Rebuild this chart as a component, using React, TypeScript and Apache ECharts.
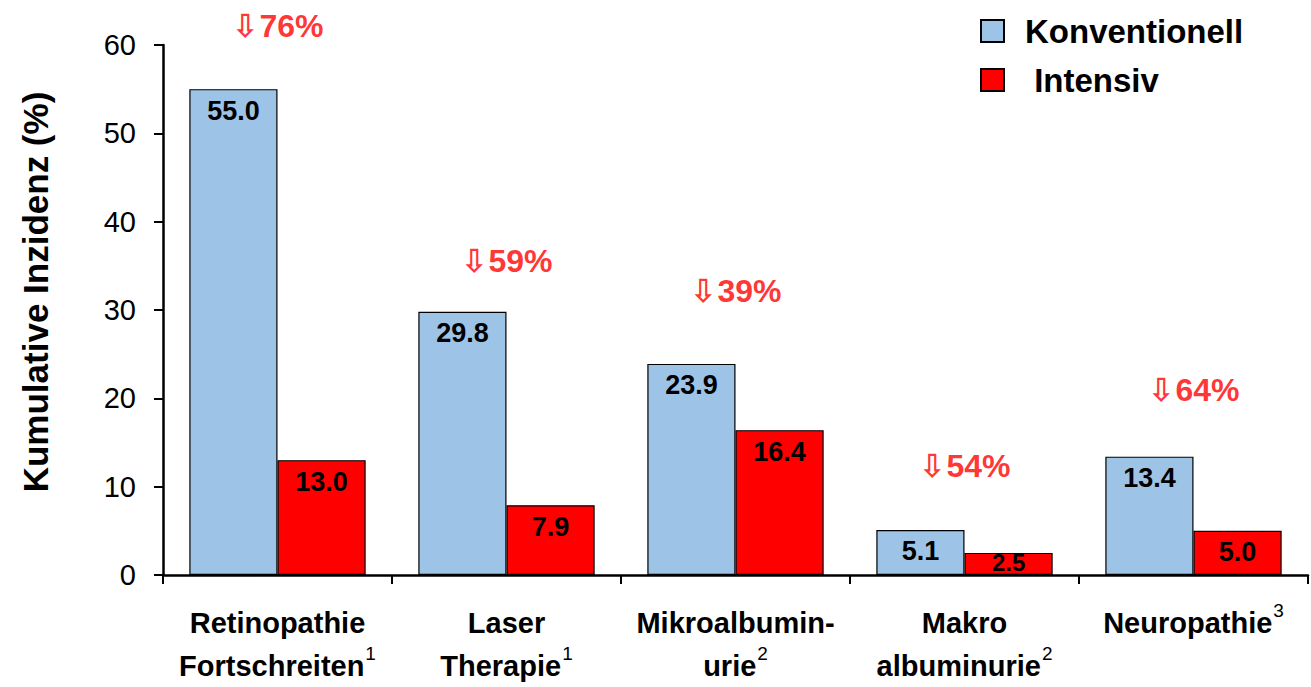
import React, { useEffect, useRef } from "react";
import * as echarts from "echarts";

const categories = [
  "{b|Retinopathie}\n{b|Fortschreiten}{s|1}",
  "{b|Laser}\n{b|Therapie}{s|1}",
  "{b|Mikroalbumin-}\n{b|urie}{s|2}",
  "{b|Makro}\n{b|albuminurie}{s|2}",
  "{b|Neuropathie}{s|3}",
];
const konventionell = [55.0, 29.8, 23.9, 5.1, 13.4];
const intensiv = [13.0, 7.9, 16.4, 2.5, 5.0];
const reductionLabels = ["76%", "59%", "39%", "54%", "64%"];
const reductionPos = [62.1, 35.5, 32.1, 12.3, 20.9];

export default function App() {
  const ref = useRef<HTMLDivElement>(null);
  useEffect(() => {
    if (!ref.current) return;
    const chart = echarts.init(ref.current, null, { renderer: "svg" });
    const font = "Liberation Sans, Arial, sans-serif";
    const valueLabel = {
      show: true,
      position: "insideTop",
      distance: 8,
      fontSize: 27,
      fontWeight: "bold",
      color: "#000",
      fontFamily: font,
      formatter: (p: any) => p.value.toFixed(1),
    };
    chart.setOption({
      animation: false,
      backgroundColor: "#ffffff",
      textStyle: { fontFamily: font },
      grid: { left: 163, right: 3, top: 45, bottom: 108, containLabel: false },
      legend: {
        orient: "vertical",
        left: 975,
        top: 9,
        itemWidth: 23,
        itemHeight: 22,
        itemGap: 15,
        icon: "rect",
        data: [{ name: "Konventionell" }, { name: " Intensiv" }],
        textStyle: {
          fontSize: 33,
          lineHeight: 34,
          fontWeight: "bold",
          color: "#000",
          fontFamily: font,
          padding: [0, 0, 0, 16],
        },
      },
      xAxis: {
        type: "category",
        data: categories,
        axisLine: { lineStyle: { color: "#000", width: 2.5 } },
        axisTick: { show: true, length: 9, lineStyle: { color: "#000", width: 2 } },
        axisLabel: {
          margin: 26,
          interval: 0,
          lineHeight: 43,
          rich: {
            b: { fontSize: 29, fontWeight: "bold", color: "#000", fontFamily: font, lineHeight: 43 },
            s: { fontSize: 19, color: "#000", fontFamily: font, verticalAlign: "top", padding: [0, 0, 6, 1] },
          },
        },
      },
      yAxis: {
        type: "value",
        min: 0,
        max: 60,
        interval: 10,
        name: "Kumulative Inzidenz (%)",
        nameLocation: "middle",
        nameGap: 110,
        nameTextStyle: {
          fontSize: 35,
          fontWeight: "bold",
          color: "#000",
          fontFamily: font,
          padding: [0, 0, 0, 36],
        },
        axisLine: { show: true, lineStyle: { color: "#000", width: 2.5 } },
        axisTick: { show: true, length: 9, lineStyle: { color: "#000", width: 2 } },
        axisLabel: { fontSize: 29, color: "#000", margin: 27, fontFamily: font },
        splitLine: { show: false },
      },
      series: [
        {
          name: "Konventionell",
          type: "bar",
          data: konventionell,
          barGap: "0%",
          barCategoryGap: "23%",
          itemStyle: { color: "#9dc3e6", borderColor: "#000", borderWidth: 1.2 },
          label: valueLabel,
        },
        {
          name: " Intensiv",
          type: "bar",
          data: intensiv.map((v) =>
            v < 4 ? { value: v, label: { distance: -2, fontSize: 24 } } : v
          ),
          itemStyle: { color: "#ff0000", borderColor: "#000", borderWidth: 1.2 },
          label: valueLabel,
        },
        {
          name: "reduction",
          type: "scatter",
          symbolSize: 0,
          silent: true,
          clip: false,
          z: 10,
          data: reductionPos.map((v, i) => ({ value: [i, v], name: reductionLabels[i] })),
          label: {
            show: true,
            position: "inside",
            formatter: (p: any) => "{a|⇩}{t|" + p.name + "}",
            rich: {
              a: { fontSize: 32, fontWeight: "bold", color: "#ff0000", fontFamily: "DejaVu Sans", padding: [0, 1, 0, 0] },
              t: { fontSize: 32, fontWeight: "bold", color: "#ff0000", fontFamily: font },
            },
          },
        },
      ],
    });
    return () => chart.dispose();
  }, []);
  return <div ref={ref} style={{ width: 1311, height: 687, position: "absolute", left: 0, top: 0 }} />;
}
